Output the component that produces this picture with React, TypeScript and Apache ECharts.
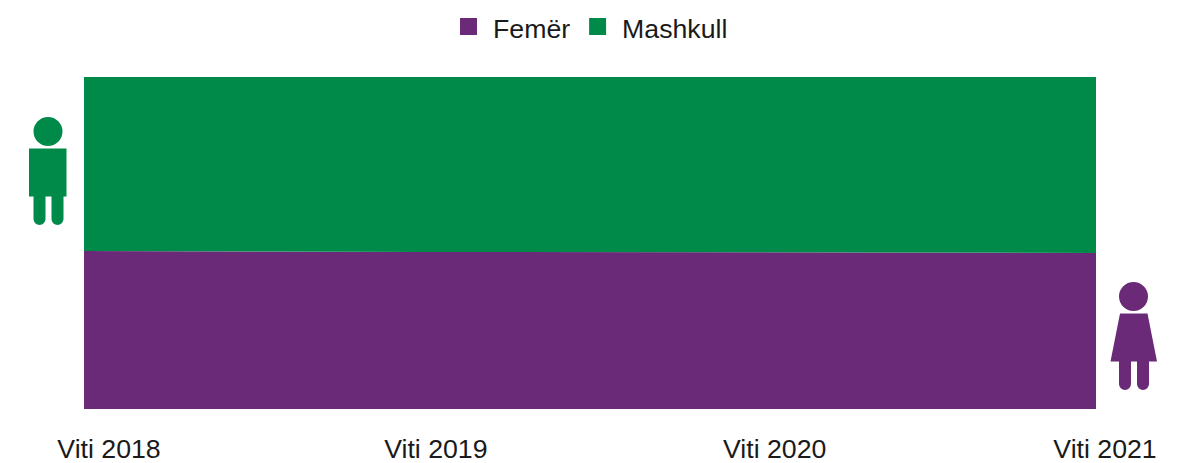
import React, { useEffect, useRef } from "react";
import * as echarts from "echarts";

const years = ["Viti 2018", "Viti 2019", "Viti 2020", "Viti 2021"];
const female = [47.6, 47.3, 47.2, 47.0];
const male = [52.4, 52.7, 52.8, 53.0];
const labelShift = [50, 29, 32, 18];

const PURPLE = "#6B2A78";
const GREEN = "#008A4A";

const manPath =
  "M14.5 0A14.5 14.5 0 1 0 14.5 29A14.5 14.5 0 1 0 14.5 0ZM-4.5 31.5H33V79.5H30V102A6 6 0 0 1 18 102V79.5H12V102A6 6 0 0 1 0 102V79.5H-4.5Z";
const womanPath =
  "M14.5 0A14.5 14.5 0 1 0 14.5 29A14.5 14.5 0 1 0 14.5 0ZM1 31.5H28.5L38 79.5H30V102A6 6 0 0 1 18 102V79.5H12V102A6 6 0 0 1 0 102V79.5H-8.5Z";

const font = "'Liberation Sans', Arial, sans-serif";

export default function App() {
  const ref = useRef<HTMLDivElement>(null);
  useEffect(() => {
    (echarts.graphic as any).registerShape("manIcon", (echarts.graphic as any).extendPath(manPath, {}));
    (echarts.graphic as any).registerShape("womanIcon", (echarts.graphic as any).extendPath(womanPath, {}));
    const chart = echarts.init(ref.current!, undefined, { renderer: "svg" });
    const rich: Record<string, any> = {};
    labelShift.forEach((p, i) => {
      rich["l" + i] = { padding: [0, 0, 0, p], fontSize: 26.7, fontFamily: font, color: "#1a1a1a" };
    });
    chart.setOption({
      animation: false,
      legend: {
        top: 10.5,
        left: 455,
        icon: "rect",
        itemWidth: 17,
        itemHeight: 17,
        itemGap: 19,
        data: ["Femër", "Mashkull"],
        formatter: (name: string) => `{a|${name}}`,
        textStyle: {
          fontSize: 26.7,
          fontFamily: font,
          color: "#1a1a1a",
          padding: [0, 0, 0, 11],
          rich: {
            a: { fontSize: 26.7, fontFamily: font, color: "#1a1a1a", padding: [5, 0, 0, 0] },
          },
        },
      },
      grid: { left: 84, right: 90, top: 77, bottom: 54 },
      xAxis: {
        type: "category",
        boundaryGap: false,
        data: years,
        axisLine: { show: false },
        axisTick: { show: false },
        axisLabel: {
          interval: 0,
          margin: 26,
          formatter: (v: string) => `{l${years.indexOf(v)}|${v}}`,
          rich,
        },
      },
      yAxis: { type: "value", min: 0, max: 100, show: false },
      series: [
        {
          name: "Femër",
          type: "line",
          stack: "all",
          data: female,
          symbol: "none",
          lineStyle: { width: 0 },
          itemStyle: { color: PURPLE },
          areaStyle: { color: PURPLE, opacity: 1 },
        },
        {
          name: "Mashkull",
          type: "line",
          stack: "all",
          data: male,
          symbol: "none",
          lineStyle: { width: 0 },
          itemStyle: { color: GREEN },
          areaStyle: { color: GREEN, opacity: 1 },
        },
      ],
      graphic: [
        { type: "manIcon", x: 33.5, y: 117, style: { fill: GREEN } },
        { type: "womanIcon", x: 1119, y: 282, style: { fill: PURPLE } },
      ],
    });
    return () => chart.dispose();
  }, []);
  return <div ref={ref} style={{ width: 1186, height: 463, position: "absolute", left: 0, top: 0 }} />;
}
